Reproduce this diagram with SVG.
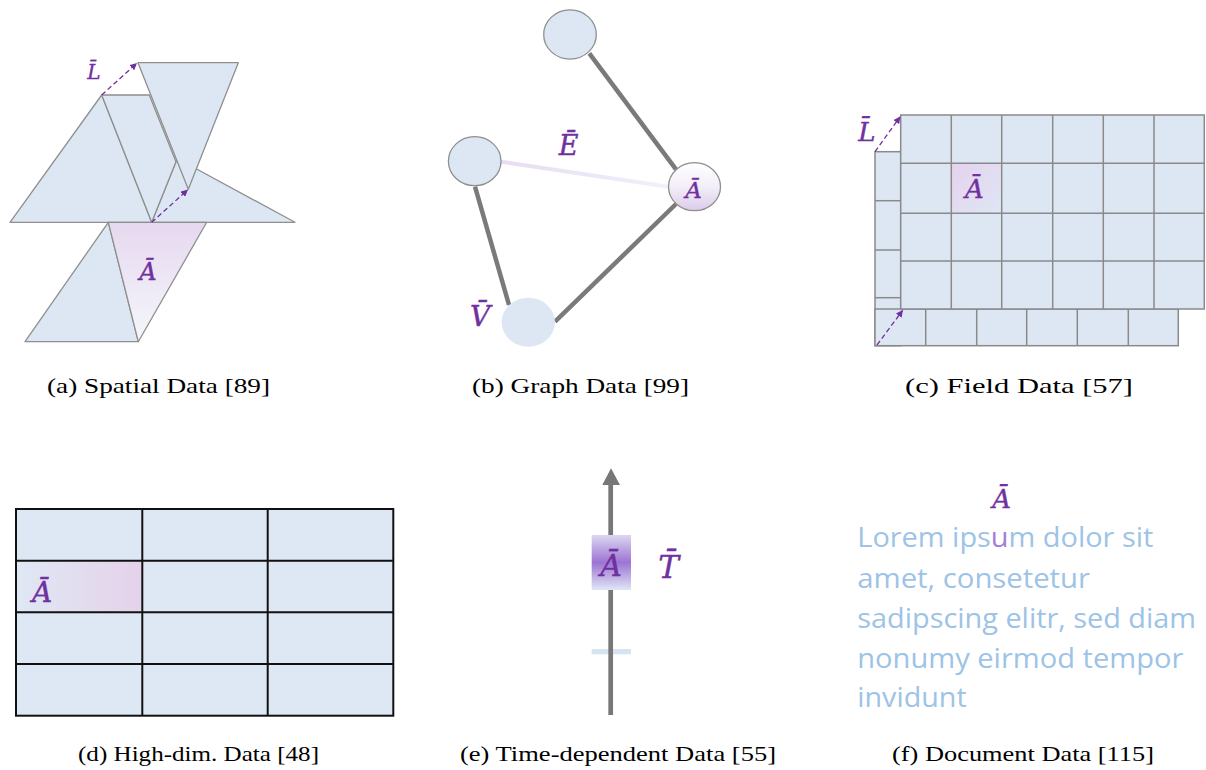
<svg xmlns="http://www.w3.org/2000/svg" width="1206" height="770" viewBox="0 0 1206 770">
<style>
.sh{fill:#dce7f3;stroke:#8f8f8f;stroke-width:1.3;stroke-linejoin:round}
.cell{fill:#dce7f3;stroke:#8a8a8a;stroke-width:1.5}
.hd{fill:#dde8f4;stroke:#111;stroke-width:2}
.m{font-family:"DejaVu Serif","Liberation Serif",serif;font-style:italic;fill:#7030a0;stroke:#7030a0;stroke-width:0.4;text-anchor:middle}
.cap{font-family:"Liberation Serif","DejaVu Serif",serif;font-size:21px;fill:#000}
.dash{stroke:#7030a0;stroke-width:1.3;stroke-dasharray:5 3;fill:none;marker-end:url(#ah)}
.edge{stroke:#7a7a7a;stroke-width:4.5;stroke-linecap:butt}
.doc{font-family:"Open Sans","Noto Sans",sans-serif;font-size:27px;fill:#9dc3e6}
</style>
<defs>
<marker id="ah" viewBox="0 0 10 10" refX="9" refY="5" markerWidth="7" markerHeight="7" orient="auto" markerUnits="userSpaceOnUse">
<path d="M0,0 L10,5 L0,10 z" fill="#7030a0"/>
</marker>
<linearGradient id="gA1" x1="0" y1="0" x2="0" y2="1">
<stop offset="0" stop-color="#e6d8ef"/><stop offset="1" stop-color="#f5f7fc"/>
</linearGradient>
<linearGradient id="gB" x1="0" y1="0" x2="0" y2="1">
<stop offset="0" stop-color="#ffffff"/><stop offset="0.5" stop-color="#f3eef8"/><stop offset="1" stop-color="#dccbea"/>
</linearGradient>
<linearGradient id="gE" x1="0" y1="0" x2="1" y2="0">
<stop offset="0" stop-color="#e8dcf2"/><stop offset="1" stop-color="#eef2fa"/>
</linearGradient>
<linearGradient id="gC" x1="0" y1="0" x2="1" y2="1">
<stop offset="0" stop-color="#e6d2ee"/><stop offset="1" stop-color="#dde7f4"/>
</linearGradient>
<linearGradient id="gD" x1="0" y1="0" x2="1" y2="0">
<stop offset="0" stop-color="#dfe8f4"/><stop offset="1" stop-color="#e5d2ea"/>
</linearGradient>
<linearGradient id="gT" x1="0" y1="0" x2="0" y2="1">
<stop offset="0" stop-color="#dcd6f2"/><stop offset="0.5" stop-color="#9c74d2"/><stop offset="1" stop-color="#dfe6f5"/>
</linearGradient>
</defs>
<rect width="1206" height="770" fill="#fff"/>

<!-- (a) Spatial -->
<g id="spatial">
<polygon class="sh" points="151.7,222.3 177.3,158.5 295,222.3"/>
<polygon class="sh" points="10,222.3 101.7,95 151.7,222.3"/>
<polygon class="sh" points="101.7,95 149.3,95 176,161.7 151.7,222.3"/>
<polygon class="sh" points="138,62.7 238.3,62.7 188.3,189.3"/>
<polygon class="sh" points="25,341.7 108.3,222.3 138.3,341.7"/>
<polygon class="sh" points="108.3,222.3 206.7,222.3 138.3,341.7" style="fill:url(#gA1)"/>
<line class="dash" x1="101.7" y1="95" x2="136.5" y2="63.5"/>
<line class="dash" x1="151.7" y1="222.3" x2="187.5" y2="190"/>
<text class="m" x="94" y="79" font-size="20">L̄</text>
<text class="m" x="148" y="280" font-size="24">Ā</text>
</g>

<!-- (b) Graph -->
<g id="graph-edges">
<line class="edge" x1="589.3" y1="53.3" x2="676" y2="169.3"/>
<line class="edge" x1="475" y1="186.7" x2="509" y2="305"/>
<line class="edge" x1="676" y1="204" x2="555" y2="321.7"/>
<line x1="501" y1="161.7" x2="668.3" y2="186.7" stroke="url(#gE)" stroke-width="4"/>
</g>
<g id="node-top"><ellipse cx="570" cy="34.5" rx="26.3" ry="24.6" class="sh"/></g>
<g id="node-left"><ellipse cx="474.7" cy="161.2" rx="26.3" ry="24.5" class="sh"/></g>
<g id="node-A"><ellipse cx="694.5" cy="186.7" rx="26" ry="24" class="sh" style="fill:url(#gB)"/>
<text class="m" x="693.5" y="197.5" font-size="23">Ā</text></g>
<g id="node-V"><ellipse cx="528.3" cy="322.2" rx="26.7" ry="24.5" fill="#dce7f3"/></g>
<text class="m" x="568.5" y="155" font-size="27">Ē</text>
<text class="m" x="480" y="326" font-size="28">V̄</text>

<!-- (c) Field -->
<g id="field-back">
<rect class="cell" x="875" y="151.7" width="25.7" height="194"/>
<line class="cell" x1="875" y1="200.7" x2="900.7" y2="200.7"/>
<line class="cell" x1="875" y1="250" x2="900.7" y2="250"/>
<line class="cell" x1="875" y1="297.7" x2="900.7" y2="297.7"/>
<rect class="cell" x="875" y="309" width="303.3" height="36.7"/>
<line class="cell" x1="925.7" y1="309" x2="925.7" y2="345.7"/>
<line class="cell" x1="976.7" y1="309" x2="976.7" y2="345.7"/>
<line class="cell" x1="1026.7" y1="309" x2="1026.7" y2="345.7"/>
<line class="cell" x1="1077.3" y1="309" x2="1077.3" y2="345.7"/>
<line class="cell" x1="1128.3" y1="309" x2="1128.3" y2="345.7"/>
</g>
<g id="field-front">
<rect class="cell" x="900.7" y="115" width="303.6" height="194"/>
<rect x="951.3" y="163.5" width="50.4" height="49.8" fill="url(#gC)"/>
<line class="cell" x1="951.3" y1="115" x2="951.3" y2="309"/>
<line class="cell" x1="1001.7" y1="115" x2="1001.7" y2="309"/>
<line class="cell" x1="1052.7" y1="115" x2="1052.7" y2="309"/>
<line class="cell" x1="1103.3" y1="115" x2="1103.3" y2="309"/>
<line class="cell" x1="1154" y1="115" x2="1154" y2="309"/>
<line class="cell" x1="900.7" y1="163.3" x2="1204.3" y2="163.3"/>
<line class="cell" x1="900.7" y1="213.3" x2="1204.3" y2="213.3"/>
<line class="cell" x1="900.7" y1="261" x2="1204.3" y2="261"/>
<text class="m" x="974.3" y="198" font-size="26">Ā</text>
</g>
<line class="dash" x1="875" y1="151.7" x2="900" y2="117"/>
<line class="dash" x1="877" y1="345" x2="902.5" y2="310.5"/>
<text class="m" x="867" y="141" font-size="26">L̄</text>

<!-- (d) High-dim -->
<g id="highdim">
<rect class="hd" x="16" y="509" width="377.3" height="206.7"/>
<rect x="17" y="561.5" width="124.5" height="50" fill="url(#gD)"/>
<line class="hd" x1="142.3" y1="509" x2="142.3" y2="715.7"/>
<line class="hd" x1="267.7" y1="509" x2="267.7" y2="715.7"/>
<line class="hd" x1="16" y1="560.7" x2="393.3" y2="560.7"/>
<line class="hd" x1="16" y1="612.3" x2="393.3" y2="612.3"/>
<line class="hd" x1="16" y1="664" x2="393.3" y2="664"/>
<text class="m" x="42" y="602" font-size="28">Ā</text>
</g>

<!-- (e) Time-dependent -->
<g id="time">
<rect x="591.7" y="649" width="39.3" height="5.3" fill="#d6e3f1"/>
<line x1="610.7" y1="715" x2="610.7" y2="482" stroke="#777" stroke-width="4.7"/>
<polygon points="602.3,485 620,485 611,468.3" fill="#777"/>
<rect x="591.7" y="535" width="39.3" height="55" fill="url(#gT)"/>
<text class="m" x="611" y="576" font-size="30">Ā</text>
<text class="m" x="668.5" y="578" font-size="31">T̄</text>
</g>

<!-- (f) Document -->
<g id="document">
<text class="m" x="1001.7" y="508" font-size="26">Ā</text>
<text class="doc" x="857.3" y="547" textLength="296" lengthAdjust="spacingAndGlyphs">Lorem ips<tspan fill="#a47ed6">u</tspan>m dolor sit</text>
<text class="doc" x="857.3" y="588" textLength="232.7" lengthAdjust="spacingAndGlyphs">amet, consetetur</text>
<text class="doc" x="857.3" y="628" textLength="338.7" lengthAdjust="spacingAndGlyphs">sadipscing elitr, sed diam</text>
<text class="doc" x="857.3" y="668" textLength="326" lengthAdjust="spacingAndGlyphs">nonumy eirmod tempor</text>
<text class="doc" x="857.3" y="707" textLength="109.3" lengthAdjust="spacingAndGlyphs">invidunt</text>
</g>

<!-- captions -->
<g id="captions">
<text class="cap" x="47" y="393" textLength="223" lengthAdjust="spacingAndGlyphs">(a) Spatial Data [89]</text>
<text class="cap" x="472" y="393" textLength="217" lengthAdjust="spacingAndGlyphs">(b) Graph Data [99]</text>
<text class="cap" x="905" y="393" textLength="228" lengthAdjust="spacingAndGlyphs">(c) Field Data [57]</text>
<text class="cap" x="78" y="761" textLength="241" lengthAdjust="spacingAndGlyphs">(d) High-dim. Data [48]</text>
<text class="cap" x="460" y="761" textLength="316" lengthAdjust="spacingAndGlyphs">(e) Time-dependent Data [55]</text>
<text class="cap" x="892" y="761" textLength="262" lengthAdjust="spacingAndGlyphs">(f) Document Data [115]</text>
</g>
</svg>
